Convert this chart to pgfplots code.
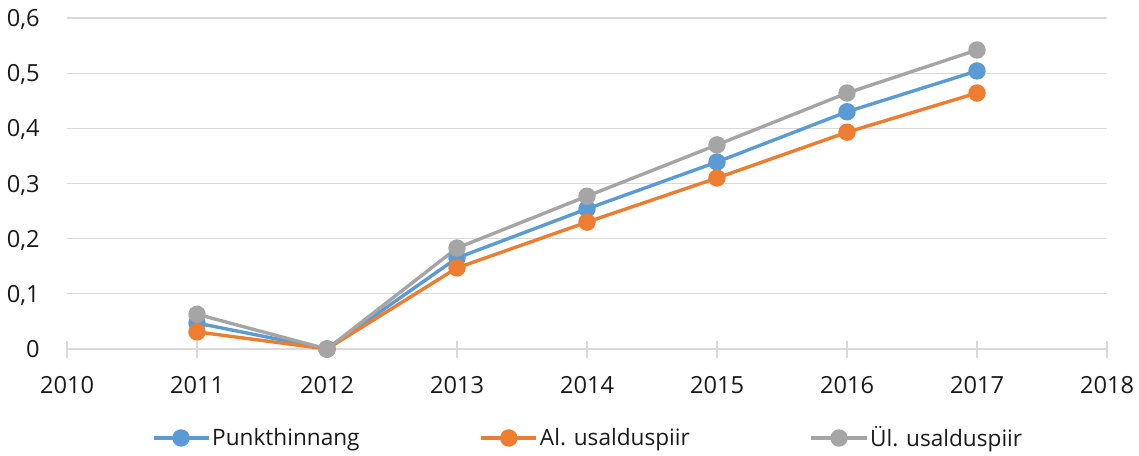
\documentclass[border=0pt]{standalone}
\usepackage{pgfplots}
\pgfplotsset{compat=1.18}
\usepackage{fontspec}
\setmainfont{Open Sans}

\definecolor{sblue}{HTML}{5B9BD5}
\definecolor{sorange}{HTML}{ED7D31}
\definecolor{sgray}{HTML}{A5A5A5}
\definecolor{gridc}{HTML}{D9D9D9}
\definecolor{txt}{HTML}{1A1A1A}

\pgfplotsset{
  series/.style={color=#1, line width=1.7pt, mark=*, mark size=3.5pt,
    mark options={solid, fill=#1, draw=none}},
}

\begin{document}
\begin{tikzpicture}
\begin{axis}[
  scale only axis,
  width=520pt, height=165.5pt,
  xmin=2010, xmax=2018, ymin=0, ymax=0.6,
  xtick={2010,2011,2012,2013,2014,2015,2016,2017,2018},
  ytick={0,0.1,0.2,0.3,0.4,0.5,0.6},
  axis x line*=bottom, axis y line*=left,
  x axis line style={draw=gridc, line width=0.6pt},
  y axis line style={draw=none},
  ymajorgrids, major grid style={draw=gridc, line width=0.6pt},
  xtick style={draw=gridc, line width=0.6pt},
  ytick style={draw=none},
  tick align=center, major tick length=8.5pt,
  /pgf/number format/assume math mode=true,
  /pgf/number format/use comma,
  font=\fontsize{11.8}{14}\selectfont,
  xticklabel style={/pgf/number format/1000 sep={}, anchor=center, inner sep=0pt,
    yshift=-13.75pt, text=txt, text depth=0pt},
  yticklabel style={/pgf/number format/fixed, anchor=east, inner sep=0pt,
    xshift=-9.25pt, text=txt, text depth=0pt},
  clip=false,
  legend columns=3,
  legend cell align=left,
  legend style={draw=none, fill=none, at={(0.5,0)}, anchor=center, yshift=-44.5pt,
    font=\fontsize{11.3}{14}\selectfont, text=txt,
    nodes={inner sep=0pt},
    /tikz/every odd column/.append style={column sep=1pt},
    /tikz/every even column/.append style={column sep=60pt}},
  legend image code/.code={
    \draw[mark repeat=2, mark phase=2, #1] plot coordinates {(0pt,0pt) (13.75pt,0pt) (27.5pt,0pt)};
  },
]
\coordinate (O) at (rel axis cs:0,0);

\addplot[series=sblue] coordinates {
  (2011,0.047) (2012,0) (2013,0.165) (2014,0.254) (2015,0.339) (2016,0.430) (2017,0.504)
};
\addlegendentry{Punkthinnang}

\addplot[series=sorange] coordinates {
  (2011,0.031) (2012,0) (2013,0.147) (2014,0.230) (2015,0.310) (2016,0.393) (2017,0.464)
};
\addlegendentry{Al. usalduspiir}

\addplot[series=sgray] coordinates {
  (2011,0.063) (2012,0) (2013,0.183) (2014,0.277) (2015,0.370) (2016,0.464) (2017,0.542)
};
\addlegendentry{Ül. usalduspiir}
\end{axis}
\pgfresetboundingbox
\path (O) ++(-33.5pt,-53pt) rectangle ++(569.5pt,227.5pt);
\end{tikzpicture}
\end{document}
